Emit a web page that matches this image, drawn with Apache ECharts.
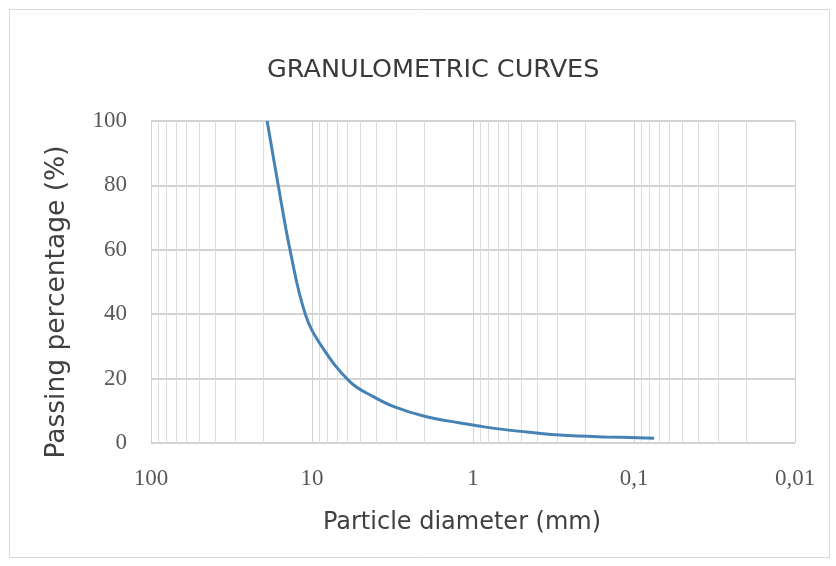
<!DOCTYPE html>
<html>
<head>
<meta charset="utf-8">
<script src="https://cdn.jsdelivr.net/npm/echarts@6/dist/echarts.min.js"></script>
<style>
html,body{margin:0;padding:0;background:#fff;}
#chart{width:836px;height:566px;}
</style>
</head>
<body>
<div id="chart"></div>
<script>
// Particle diameter (mm) and passing percentage (%)
const diameters = [19, 16.2, 13.7, 11, 8.7, 5.8, 4.16, 3.1, 2.0, 1.2, 0.9, 0.6, 0.42, 0.29, 0.15, 0.075];
const passing   = [100, 80, 60, 40, 30, 19, 14.4, 11.3, 8.3, 6.2, 5.2, 4.0, 3.2, 2.5, 1.9, 1.5];
const xTickLabels = {"100": "100", "10": "10", "1": "1", "0.1": "0,1", "0.01": "0,01"};
const yTicks = [0, 20, 40, 60, 80, 100];

const chart = echarts.init(document.getElementById('chart'));
const option = {
  animation: false,
  backgroundColor: '#fff',
  title: {
    text: 'GRANULOMETRIC CURVES',
    left: 262, top: 52,
    textStyle: {fontFamily: 'DejaVu Sans', fontSize: 25.5, fontWeight: 'normal', color: '#3a3a3a'}
  },
  graphic: [{
    type: 'rect', silent: true,
    shape: {x: 9.5, y: 9.5, width: 820, height: 548},
    style: {fill: 'none', stroke: '#d9d9d9', lineWidth: 1}
  }],
  grid: {left: 151, right: 41, top: 121, bottom: 123},
  xAxis: {
    type: 'log', logBase: 10, min: 0.01, max: 100, inverse: true,
    name: 'Particle diameter (mm)', nameLocation: 'middle', nameGap: 68,
    nameTextStyle: {fontFamily: 'DejaVu Sans', fontSize: 24, color: '#404040', verticalAlign: 'top', padding: [0, 22, 0, 0]},
    axisLine: {show: false}, axisTick: {show: false},
    axisLabel: {
      margin: 24, fontFamily: 'Liberation Serif', fontSize: 23, color: '#595959',
      formatter: v => { const k = String(+(+v).toPrecision(6)); return xTickLabels[k] !== undefined ? xTickLabels[k] : k.replace('.', ','); }
    },
    splitLine: {show: true, lineStyle: {color: '#d0d0d0', width: 1}},
    minorTick: {show: false, splitNumber: 9},
    minorSplitLine: {show: true, lineStyle: {color: '#dcdcdc', width: 1}}
  },
  yAxis: {
    type: 'value', min: 0, max: 100, interval: 20,
    name: 'Passing percentage (%)', nameLocation: 'middle', nameGap: 80,
    nameTextStyle: {fontFamily: 'DejaVu Sans', fontSize: 26.5, color: '#404040', padding: [0, 40, 0, 0]},
    axisLine: {show: false}, axisTick: {show: false},
    axisLabel: {margin: 24, fontFamily: 'Liberation Serif', fontSize: 23, color: '#595959',
      formatter: v => yTicks.includes(v) ? String(v) : ''},
    splitLine: {show: true, lineStyle: {color: '#c4c4c4', width: 1.5}}
  },
  series: [{
    type: 'line',
    data: diameters.map((d, i) => [d, passing[i]]),
    smooth: 0.4,
    showSymbol: false,
    lineStyle: {color: '#4682b4', width: 3},
    itemStyle: {color: '#4682b4'}
  }]
};
chart.setOption(option);
</script>
</body>
</html>
